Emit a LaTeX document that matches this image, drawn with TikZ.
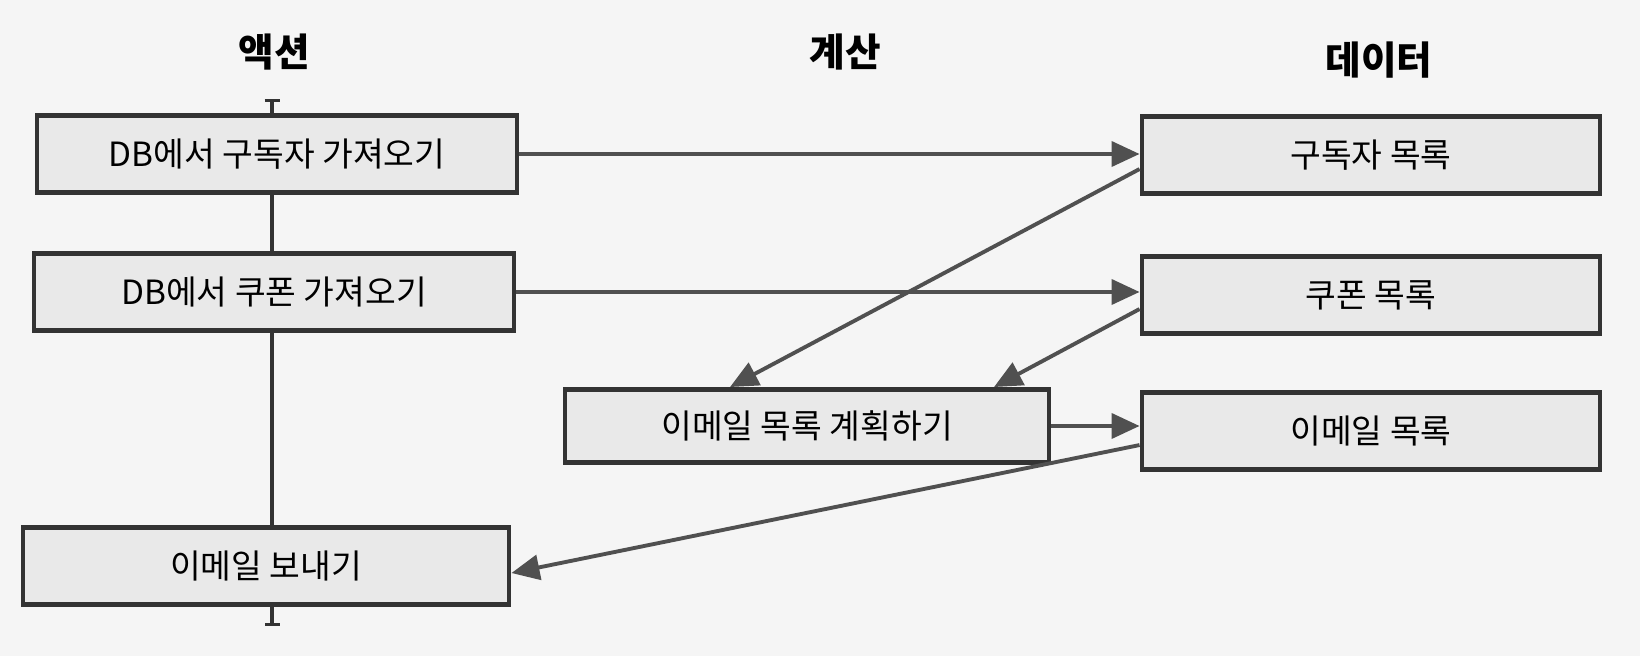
\documentclass[tikz,border=0pt]{standalone}
\usepackage{fontspec}
\setmainfont{Noto Sans CJK KR}
\usepackage{tikz}
\usetikzlibrary{arrows.meta}

\definecolor{pagebg}{HTML}{F5F5F5}
\definecolor{boxfill}{HTML}{E9E9E9}
\definecolor{boxline}{HTML}{333333}
\definecolor{flowgray}{HTML}{505050}

\begin{document}
\begin{tikzpicture}[
    font=\fontsize{9.5}{11}\selectfont,
    actbox/.style={draw=boxline,line width=1.4pt,fill=boxfill,
      minimum width=4.8cm,minimum height=0.77cm,inner sep=0pt},
    calcbox/.style={actbox,minimum width=4.84cm,minimum height=0.73cm},
    databox/.style={actbox,minimum width=4.58cm},
    header/.style={font=\fontsize{11}{12}\selectfont\bfseries},
    flow/.style={draw=flowgray,line width=1.1pt,
      -{Triangle[length=0.28cm,width=0.25cm]}},
    timeline/.style={draw=boxline,line width=0.9pt,
      {Bar[width=0.15cm]}-{Bar[width=0.15cm]}}]
  \fill[pagebg] (0,0) rectangle (16.4,-6.56);
  \useasboundingbox (0,0) rectangle (16.4,-6.56);

  % column headers
  \node[header] (hact) at (2.74,-0.52) {액션};
  \node[header] (hcalc) at (8.45,-0.52) {계산};
  \node[header] (hdata) at (13.79,-0.60) {데이터};

  % timeline of the actions
  \coordinate (tltop) at (2.72,-0.99);
  \coordinate (tlbot) at (2.72,-6.26);
  \draw[timeline] (tltop) -- (tlbot);

  % actions
  \node[actbox] (getsub) at (2.77,-1.54) {DB에서 구독자 가져오기};
  \node[actbox] (getcpn) at (2.74,-2.92) {DB에서 쿠폰 가져오기};
  \node[actbox,minimum width=4.86cm] (send) at (2.66,-5.66) {이메일 보내기};

  % calculation
  \node[calcbox] (plan) at (8.07,-4.26) {이메일 목록 계획하기};

  % data
  \node[databox] (sublist) at (13.71,-1.55) {구독자 목록};
  \node[databox] (cpnlist) at (13.71,-2.95) {쿠폰 목록};
  \node[databox] (emllist) at (13.71,-4.31) {이메일 목록};

  \draw[flow] (getsub.east) -- (getsub.east -| sublist.west);
  \draw[flow] ([yshift=-4pt]sublist.west) -- ([xshift=-0.77cm]plan.north);
  \draw[flow] (getcpn.east) -- (getcpn.east -| cpnlist.west);
  \draw[flow] ([yshift=-4pt]cpnlist.west) -- ([xshift=1.87cm]plan.north);
  \draw[flow] (plan.east) -- (plan.east -| emllist.west);
  \draw[flow] ([yshift=-4pt]emllist.west) -- ([yshift=-2pt]send.east);
\end{tikzpicture}
\end{document}
